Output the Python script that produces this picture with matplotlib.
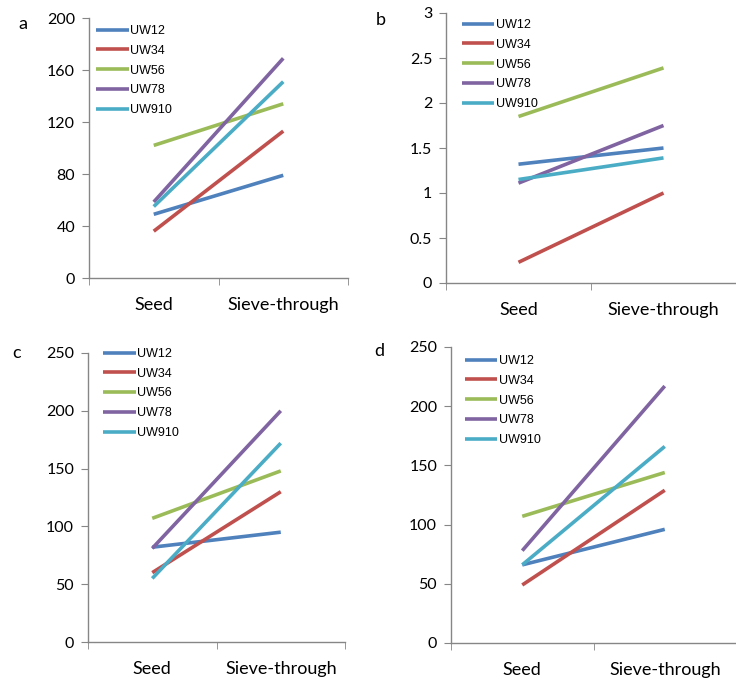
import numpy as np
import matplotlib.pyplot as plt
from matplotlib.ticker import FixedLocator, FuncFormatter

# categorias y series
categorias = ['Seed', 'Sieve-through']
nombres = ['UW12', 'UW34', 'UW56', 'UW78', 'UW910']
colores = ['#4F81BD', '#C0504D', '#9BBB59', '#8064A2', '#4BACC6']

# valores (seed, sieve-through)
panel_a = [[49, 79], [36, 113], [102, 134], [58.5, 169], [55, 151]]
panel_b = [[1.32, 1.50], [0.23, 1.00], [1.85, 2.39], [1.11, 1.75], [1.15, 1.39]]
panel_c = [[82, 95], [60, 130], [107, 148], [81, 200], [55, 172]]
panel_d = [[66, 96], [49, 129], [107, 144], [78, 217], [66, 166]]

W, H = 736, 681
fig = plt.figure(figsize=(W / 100, H / 100), dpi=100)
gris = '#868686'

def px_ax(l, t, r, b):
    return fig.add_axes([l / W, 1 - b / H, (r - l) / W, (b - t) / H])

# (datos, caja en px, ylim, paso, letra, pos letra, pos leyenda)
paneles = [
    (panel_a, (89, 18, 348, 278), 200, 40, 'a', (18, 24), (96, 25)),
    (panel_b, (446, 13, 736, 283), 3, 0.5, 'b', (376, 20), (462, 19)),
    (panel_c, (88, 353, 345, 642), 250, 50, 'c', (12, 353), (103, 348)),
    (panel_d, (451, 347, 736, 643), 250, 50, 'd', (374, 351), (465, 355)),
]

for datos, caja, ymax, paso, letra, pos_letra, pos_ley in paneles:
    ax = px_ax(*caja)
    x = np.arange(len(categorias))
    for vals, nom, col in zip(datos, nombres, colores):
        ax.plot(x, vals, color=col, lw=2.6, label=nom, solid_capstyle='butt')
    ax.set_xlim(-0.5, 1.5)
    ax.set_ylim(0, ymax)
    ax.set_yticks(np.arange(0, ymax + paso / 2, paso))
    ax.yaxis.set_major_formatter(FuncFormatter(lambda v, p: f'{v:g}'))
    ax.set_xticks(x)
    ax.set_xticklabels(categorias, fontsize=13, family='Lato')
    ax.xaxis.set_minor_locator(FixedLocator([-0.5, 0.5, 1.5]))
    ax.tick_params(axis='x', which='major', length=0, pad=14)
    ax.tick_params(axis='x', which='minor', length=5, color=gris, direction='out')
    ax.tick_params(axis='y', length=5, color=gris, direction='out', labelsize=11.5, pad=5)
    for lab in ax.get_yticklabels():
        lab.set_family('Lato')
    for s in ['top', 'right']:
        ax.spines[s].set_visible(False)
    for s in ['left', 'bottom']:
        ax.spines[s].set_color(gris)
        ax.spines[s].set_linewidth(1)
    ax.patch.set_alpha(0)
    fig.text(pos_letra[0] / W, 1 - pos_letra[1] / H, letra, fontsize=13,
             family='Lato', va='center', ha='left')
    ax.legend(loc='upper left', bbox_to_anchor=(pos_ley[0] / W, 1 - pos_ley[1] / H),
              bbox_transform=fig.transFigure, frameon=False,
              prop={'family': 'Liberation Sans', 'size': 9},
              handlelength=2.6, handletextpad=0.15, labelspacing=0.62,
              borderpad=0, borderaxespad=0)

fig.savefig('out.png', dpi=100)
